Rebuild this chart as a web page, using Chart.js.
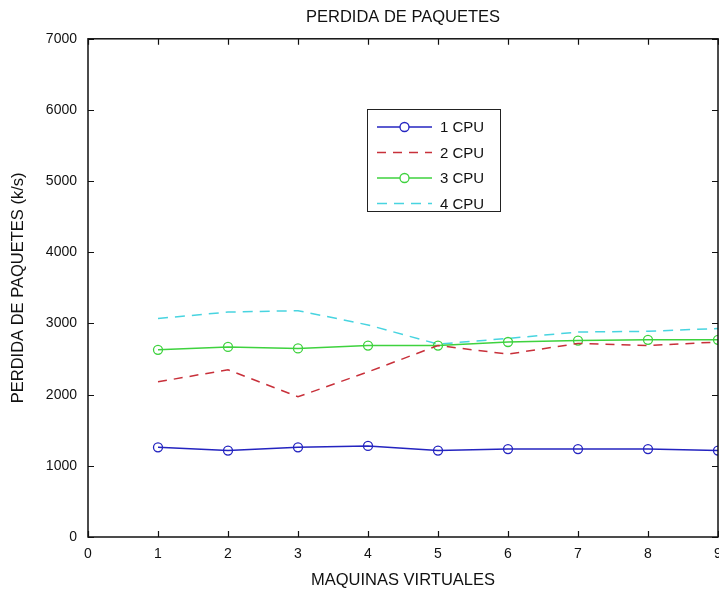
<!DOCTYPE html>
<html>
<head>
<meta charset="utf-8">
<script src="https://cdn.jsdelivr.net/npm/chart.js@4/dist/chart.umd.min.js"></script>
<style>
  html, body { margin: 0; padding: 0; background: #fff; overflow: hidden; }
  canvas { display: block; }
</style>
</head>
<body>
<canvas id="c" width="800" height="593"></canvas>
<script>
// Number of virtual machines
const maquinas = [1, 2, 3, 4, 5, 6, 7, 8, 9];

// Packet loss (k/s) per CPU configuration
const cpu1 = [1260, 1215, 1260, 1280, 1215, 1235, 1235, 1235, 1215];
const cpu2 = [2180, 2350, 1970, 2320, 2690, 2570, 2720, 2690, 2740];
const cpu3 = [2630, 2670, 2650, 2690, 2690, 2740, 2760, 2770, 2770];
const cpu4 = [3070, 3160, 3180, 2980, 2710, 2790, 2880, 2890, 2930];

const seriesNames = ['1 CPU', '2 CPU', '3 CPU', '4 CPU'];

// Axis ranges
const xRange = [0, 9];
const yRange = [0, 7000];

const FONT = "'Liberation Sans', Arial, Helvetica, sans-serif";

function pts(values) {
  return values.map((v, i) => ({ x: maquinas[i], y: v }));
}

// Box around the plot area with inward tick marks on all four sides
const framePlugin = {
  id: 'frame',
  afterDatasetsDraw(chart) {
    const { ctx, chartArea: a, scales: { x, y } } = chart;
    const t = 6;
    ctx.save();
    ctx.strokeStyle = '#111';
    ctx.lineWidth = 1.5;
    ctx.strokeRect(a.left, a.top, a.right - a.left, a.bottom - a.top);
    ctx.lineWidth = 1.2;
    ctx.beginPath();
    x.ticks.forEach(tk => {
      const px = Math.round(x.getPixelForValue(tk.value)) + 0.5;
      ctx.moveTo(px, a.bottom); ctx.lineTo(px, a.bottom - t);
      ctx.moveTo(px, a.top); ctx.lineTo(px, a.top + t);
    });
    y.ticks.forEach(tk => {
      const py = Math.round(y.getPixelForValue(tk.value)) + 0.5;
      ctx.moveTo(a.left, py); ctx.lineTo(a.left + t, py);
      ctx.moveTo(a.right, py); ctx.lineTo(a.right - t, py);
    });
    ctx.stroke();
    ctx.restore();
  }
};

// Boxed legend drawn inside the plot area
const boxLegend = {
  id: 'boxLegend',
  afterDraw(chart, args, opts) {
    const ctx = chart.ctx;
    const { left, top, width, height, rowGap, firstRow } = opts;
    ctx.save();
    ctx.fillStyle = '#fff';
    ctx.fillRect(left, top, width, height);
    ctx.strokeStyle = '#222';
    ctx.lineWidth = 1;
    ctx.strokeRect(left + 0.5, top + 0.5, width, height);
    chart.data.datasets.forEach((ds, i) => {
      const yy = top + firstRow + i * rowGap;
      const x0 = left + 10, x1 = left + 65;
      ctx.strokeStyle = ds.borderColor;
      ctx.lineWidth = ds.borderWidth;
      ctx.setLineDash(ds.borderDash || []);
      ctx.beginPath();
      ctx.moveTo(x0, yy); ctx.lineTo(x1, yy);
      ctx.stroke();
      ctx.setLineDash([]);
      if (ds.pointRadius > 0) {
        ctx.fillStyle = '#fff';
        ctx.lineWidth = ds.pointBorderWidth;
        ctx.beginPath();
        ctx.arc((x0 + x1) / 2, yy, ds.pointRadius, 0, Math.PI * 2);
        ctx.fill();
        ctx.stroke();
      }
      ctx.fillStyle = '#111';
      ctx.font = '15px ' + FONT;
      ctx.textBaseline = 'middle';
      ctx.textAlign = 'left';
      ctx.fillText(ds.label, x1 + 8, yy + 1);
    });
    ctx.restore();
  }
};

new Chart(document.getElementById('c'), {
  type: 'line',
  data: {
    datasets: [
      {
        label: seriesNames[0], data: pts(cpu1),
        borderColor: '#2424c0', borderWidth: 1.5,
        pointRadius: 4.5, pointBorderWidth: 1.3, pointBackgroundColor: 'rgba(0,0,0,0)',
        pointBorderColor: '#2424c0', tension: 0
      },
      {
        label: seriesNames[1], data: pts(cpu2),
        borderColor: '#c8303a', borderWidth: 1.5, borderDash: [9, 7],
        pointRadius: 0, tension: 0
      },
      {
        label: seriesNames[2], data: pts(cpu3),
        borderColor: '#3ed23e', borderWidth: 1.5,
        pointRadius: 4.5, pointBorderWidth: 1.3, pointBackgroundColor: 'rgba(0,0,0,0)',
        pointBorderColor: '#3ed23e', tension: 0
      },
      {
        label: seriesNames[3], data: pts(cpu4),
        borderColor: '#48d4e0', borderWidth: 1.5, borderDash: [10, 7],
        pointRadius: 0, tension: 0
      }
    ]
  },
  options: {
    responsive: false,
    animation: false,
    layout: { padding: { left: 0, right: 82, top: 0, bottom: 0 } },
    plugins: {
      legend: { display: false },
      tooltip: { enabled: false },
      title: {
        display: true,
        text: 'PERDIDA DE PAQUETES',
        fullSize: false,
        color: '#111',
        font: { family: FONT, size: 16.5, weight: 'normal' },
        padding: { top: 8, bottom: 11 }
      },
      boxLegend: { left: 367, top: 109, width: 133, height: 102, firstRow: 18, rowGap: 25.5 }
    },
    scales: {
      x: {
        type: 'linear',
        min: xRange[0], max: xRange[1],
        grid: { display: false, drawTicks: false },
        border: { display: false },
        ticks: { stepSize: 1, color: '#111', padding: 9, font: { family: FONT, size: 14 },
                 callback: v => String(v) },
        title: {
          display: true, text: 'MAQUINAS VIRTUALES', color: '#111',
          font: { family: FONT, size: 16.5 }, padding: { top: 4, bottom: 3 }
        },
        afterFit(scale) { scale.height = 56; }
      },
      y: {
        type: 'linear',
        min: yRange[0], max: yRange[1],
        grid: { display: false, drawTicks: false },
        border: { display: false },
        ticks: { stepSize: 1000, color: '#111', padding: 11, font: { family: FONT, size: 14 },
                 callback: v => String(v) },
        title: {
          display: true, text: 'PERDIDA DE PAQUETES (k/s)', color: '#111',
          font: { family: FONT, size: 16.5 }, padding: { top: 9, bottom: 0 }
        },
        afterFit(scale) { scale.width = 88; }
      }
    }
  },
  plugins: [framePlugin, boxLegend]
});
</script>
</body>
</html>
